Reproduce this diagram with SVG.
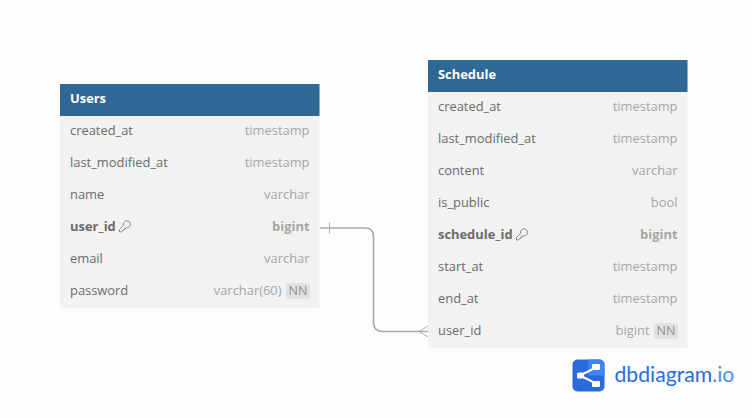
<svg xmlns="http://www.w3.org/2000/svg" width="752" height="418" viewBox="0 0 752 418">
<defs>
<style>
text{font-family:"Open Sans","Noto Sans",sans-serif;font-size:12.900px}
.body{fill:#f2f2f2}
.head{fill:#306895}
.title{fill:#fff;font-weight:700}
.f{fill:#6b6b6b}
.t{fill:#a6a6a6;text-anchor:end}
.b{font-weight:700}
.nnb{fill:#e2e2e2}
.nn{fill:#8c8c8c;font-size:12.500px;text-anchor:middle}
.conn{fill:none;stroke:#a9a9b0;stroke-width:1.600}
.thin{fill:none;stroke:#a9a9b0;stroke-width:1}
.key{fill:none;stroke:#808080;stroke-width:.9}
</style>
<symbol id="key" viewBox="0 0 12 12" overflow="visible">
<path class="key" d="M.5 11.500V9L4.600 4.900A3.500 3.500 0 1 1 7.300 7.300L6.100 7.500V8.700H4.800V10H3.400L2.500 11.500Z"/>
</symbol>
</defs>
<rect width="752" height="418" fill="#fdfdfd"/>
<g id="connectors">
<path class="conn" d="M320 228H365Q373.500 228 373.500 237V322.500Q373.500 331.500 383 331.500H428"/>
<path class="thin" d="M329.500 222.500V233.500M428 326L419 331.500L428 337"/>
</g>
<g id="users">
<rect class="body" x="60" y="84" width="259.500" height="224"/>
<rect class="head" x="60" y="84" width="259.500" height="32"/>
<text class="title" x="70" y="103">Users</text>
<text class="f" x="70" y="135">created_at</text><text class="t" x="309.500" y="135">timestamp</text>
<text class="f" x="70" y="167">last_modified_at</text><text class="t" x="309.500" y="167">timestamp</text>
<text class="f" x="70" y="199">name</text><text class="t" x="309.500" y="199">varchar</text>
<text class="f b" x="70" y="231">user_id</text><use href="#key" x="119" y="220.500" width="12" height="12"/><text class="t b" x="309.500" y="231">bigint</text>
<text class="f" x="70" y="263">email</text><text class="t" x="309.500" y="263">varchar</text>
<text class="f" x="70" y="295">password</text><text class="t" x="281.500" y="295">varchar(60)</text>
<rect class="nnb" x="286" y="283" width="24" height="16" rx="2"/><text class="nn" x="298" y="295">NN</text>
</g>
<g id="schedule">
<rect class="body" x="428" y="60" width="259.500" height="288"/>
<rect class="head" x="428" y="60" width="259.500" height="32"/>
<text class="title" x="438" y="79">Schedule</text>
<text class="f" x="438" y="111">created_at</text><text class="t" x="677.500" y="111">timestamp</text>
<text class="f" x="438" y="143">last_modified_at</text><text class="t" x="677.500" y="143">timestamp</text>
<text class="f" x="438" y="175">content</text><text class="t" x="677.500" y="175">varchar</text>
<text class="f" x="438" y="207">is_public</text><text class="t" x="677.500" y="207">bool</text>
<text class="f b" x="438" y="239">schedule_id</text><use href="#key" x="516" y="228.500" width="12" height="12"/><text class="t b" x="677.500" y="239">bigint</text>
<text class="f" x="438" y="271">start_at</text><text class="t" x="677.500" y="271">timestamp</text>
<text class="f" x="438" y="303">end_at</text><text class="t" x="677.500" y="303">timestamp</text>
<text class="f" x="438" y="335">user_id</text><text class="t" x="649.500" y="335">bigint</text>
<rect class="nnb" x="654" y="323" width="24" height="16" rx="2"/><text class="nn" x="666" y="335">NN</text>
</g>
<g id="logo">
<rect x="572.500" y="359.500" width="32" height="32" rx="5" fill="#2a6bdc"/>
<path d="M588.500 359.500H599.500A5 5 0 0 1 604.500 364.500V375.500H588.500Z" fill="#3f86f2"/>
<path d="M580 375.500L597 367M580 375.500L597 384" fill="none" stroke="#fff" stroke-width="2"/>
<rect x="577" y="372.500" width="7" height="6" rx="1.500" fill="#fff"/>
<rect x="592" y="364" width="8" height="6" rx="1" fill="#fff"/>
<rect x="592" y="381" width="8" height="6" rx="1" fill="#fff"/>
<text x="614.500" y="382" style="font-family:'Lato','Open Sans',sans-serif;font-size:21.200px;fill:#2a6bdc">dbdiagram<tspan fill="#4b8ff5">.io</tspan></text>
</g>
</svg>
